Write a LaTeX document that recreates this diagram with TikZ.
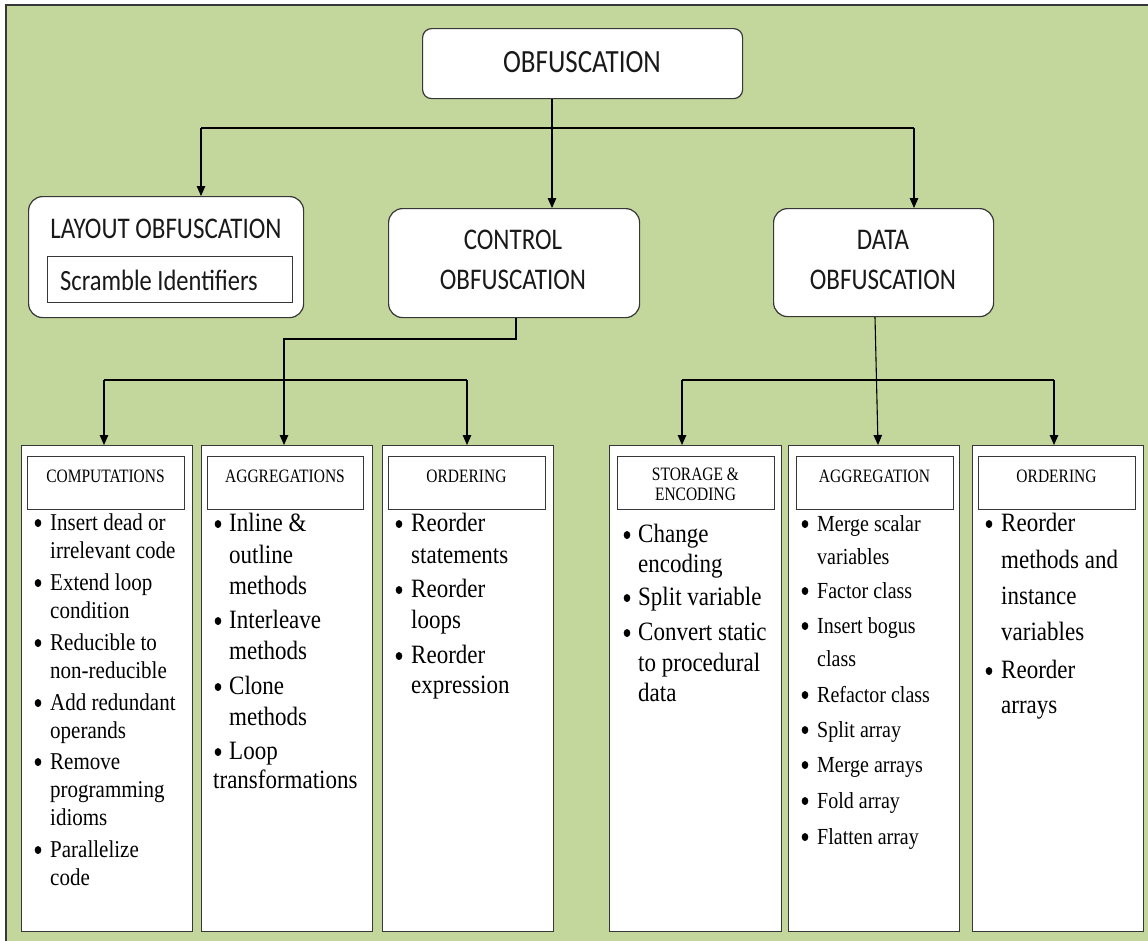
\documentclass[tikz,border=0pt]{standalone}
\usepackage{graphicx}
\usepackage{fontspec}
\setmainfont{Liberation Serif}
\newfontfamily\calib{Carlito}
\usetikzlibrary{arrows.meta}

\definecolor{bggreen}{RGB}{195,214,155}
\definecolor{edge}{RGB}{55,55,55}

% body text helpers
\newcommand\bodyfont{\fontsize{21}{21}\selectfont}
\newcommand\setbody[1]{\renewcommand\bodyfont{\fontsize{#1}{#1}\selectfont}}
\newcommand\vstr[2][1.15]{\scalebox{1}[#1]{#2}}
% bullet item: name, bullet x, text x, baseline y, text
\newcommand\bitem[5]{%
  \fill (#2,{#4-7}) ellipse [x radius=3.3, y radius=4];
  \node[body] (#1) at (#3,#4) {\vstr{#5}};}
% continuation line: name, x, baseline y, text
\newcommand\bcont[4]{\node[body] (#1) at (#2,#3) {\vstr{#4}};}
% box by corners: name, style, x1, y1, x2, y2
\newcommand\boxat[6]{%
  \node[#2, anchor=north west, minimum width={#5-#3}, minimum height={#6-#4}] (#1) at (#3,#4) {};}

\begin{document}
\begin{tikzpicture}[x=1pt,y=-1pt,
  roundbox/.style={draw=edge, line width=1.2pt, fill=white, rounded corners=14pt, inner sep=0},
  plainbox/.style={draw=edge, line width=1.2pt, fill=white, inner sep=0},
  conn/.style={line width=1.1pt, draw=black},
  arr/.style={conn, -{Triangle[length=10pt,width=8.5pt]}},
  toplabel/.style={inner sep=0, anchor=base, font=\calib\fontsize{25}{25}\selectfont, text=black!90},
  head/.style={inner sep=0, anchor=base, font=\fontsize{15.5}{15.5}\selectfont},
  body/.style={inner sep=0, anchor=base west, font=\bodyfont}]

% page and frame
\useasboundingbox (0,0) rectangle (1148,940);
\clip (0,0) rectangle (1148,940);
\fill[white] (0,0) rectangle (1148,940);
\fill[bggreen] (6,5) rectangle (1160,950);
\draw[edge, line width=2pt] (1160,5) -- (6,5) -- (6,950);

% upper level boxes
\boxat{obf}{roundbox, rounded corners=9pt}{422}{28}{742}{98}
\boxat{lay}{roundbox}{28}{196}{303}{317}
\boxat{scr}{plainbox, line width=1pt}{47}{256}{292}{302}
\boxat{ctl}{roundbox}{388}{208}{639}{317}
\boxat{dat}{roundbox}{773}{208}{993}{316}

\node[toplabel, font=\calib\fontsize{27}{27}\selectfont] (tobf) at (582,72) {\vstr[1.2]{OBFUSCATION}};
\node[toplabel] (tlay) at (166,238) {\vstr[1.2]{LAYOUT OBFUSCATION}};
\node[toplabel, anchor=base west, font=\calib\fontsize{24.5}{24.5}\selectfont] (tscr) at (60,290) {\vstr[1.2]{Scramble Identifiers}};
\node[toplabel] (tctl1) at (513,249) {\vstr[1.2]{CONTROL}};
\node[toplabel] (tctl2) at (513,289) {\vstr[1.2]{OBFUSCATION}};
\node[toplabel] (tdat1) at (883,249) {\vstr[1.2]{DATA}};
\node[toplabel] (tdat2) at (883,289) {\vstr[1.2]{OBFUSCATION}};

% lower level boxes
\boxat{b1}{plainbox}{21}{445}{192}{931}
\boxat{b2}{plainbox}{201}{445}{372}{931}
\boxat{b3}{plainbox}{382}{445}{553}{931}
\boxat{b4}{plainbox}{609}{445}{781}{931}
\boxat{b5}{plainbox}{788}{445}{959}{931}
\boxat{b6}{plainbox}{972}{445}{1143}{931}

% header boxes
\boxat{h1}{plainbox}{27}{456}{184}{509}
\boxat{h2}{plainbox}{207}{456}{363}{509}
\boxat{h3}{plainbox}{388}{456}{545}{509}
\boxat{h4}{plainbox}{617}{456}{774}{509}
\boxat{h5}{plainbox}{796}{456}{953}{509}
\boxat{h6}{plainbox}{978}{456}{1135}{509}

\node[head] (th1) at (105.5,482) {\vstr[1.22]{COMPUTATIONS}};
\node[head] (th2) at (285,482) {\vstr[1.22]{AGGREGATIONS}};
\node[head] (th3) at (466.5,482) {\vstr[1.22]{ORDERING}};
\node[head] (th4a) at (695.5,480) {\vstr[1.22]{STORAGE \&}};
\node[head] (th4b) at (695.5,500) {\vstr[1.22]{ENCODING}};
\node[head] (th5) at (874.5,482) {\vstr[1.22]{AGGREGATION}};
\node[head] (th6) at (1056.5,482) {\vstr[1.22]{ORDERING}};

% computations
\setbody{21}
\bitem{c1}{38}{50}{530}{Insert dead or}
\bcont{c1b}{50}{558}{irrelevant code}
\bitem{c2}{38}{50}{590}{Extend loop}
\bcont{c2b}{50}{618}{condition}
\bitem{c3}{38}{50}{650}{Reducible to}
\bcont{c3b}{50}{678}{non-reducible}
\bitem{c4}{38}{50}{710}{Add redundant}
\bcont{c4b}{50}{738}{operands}
\bitem{c5}{38}{50}{769}{Remove}
\bcont{c5b}{50}{797}{programming}
\bcont{c5c}{50}{825}{idioms}
\bitem{c6}{38}{50}{857}{Parallelize}
\bcont{c6b}{50}{885}{code}

% aggregations
\setbody{23}
\bitem{a1}{218}{229}{531}{Inline \&}
\bcont{a1b}{229}{563}{outline}
\bcont{a1c}{229}{594}{methods}
\bitem{a2}{218}{229}{628}{Interleave}
\bcont{a2b}{229}{659}{methods}
\bitem{a3}{218}{229}{694}{Clone}
\bcont{a3b}{229}{725}{methods}
\bitem{a4}{218}{229}{759}{Loop}
\bcont{a4b}{213}{788}{transformations}

% ordering (control)
\bitem{o1}{399}{411}{531}{Reorder}
\bcont{o1b}{411}{563}{statements}
\bitem{o2}{399}{411}{597}{Reorder}
\bcont{o2b}{411}{628}{loops}
\bitem{o3}{399}{411}{663}{Reorder}
\bcont{o3b}{411}{693}{expression}

% storage and encoding
\bitem{s1}{627}{638}{542}{Change}
\bcont{s1b}{638}{572}{encoding}
\bitem{s2}{627}{638}{605}{Split variable}
\bitem{s3}{627}{638}{640}{Convert static}
\bcont{s3b}{638}{671}{to procedural}
\bcont{s3c}{638}{701}{data}

% aggregation (data)
\setbody{20}
\bitem{g1}{805}{817}{531}{Merge scalar}
\bcont{g1b}{817}{564}{variables}
\bitem{g2}{805}{817}{598}{Factor class}
\bitem{g3}{805}{817}{633}{Insert bogus}
\bcont{g3b}{817}{666}{class}
\bitem{g4}{805}{817}{702}{Refactor class}
\bitem{g5}{805}{817}{737}{Split array}
\bitem{g6}{805}{817}{772}{Merge arrays}
\bitem{g7}{805}{817}{808}{Fold array}
\bitem{g8}{805}{817}{844}{Flatten array}

% ordering (data)
\setbody{23}
\bitem{r1}{989}{1001}{531}{Reorder}
\bcont{r1b}{1001}{568}{methods and}
\bcont{r1c}{1001}{604}{instance}
\bcont{r1d}{1001}{640}{variables}
\bitem{r2}{989}{1001}{678}{Reorder}
\bcont{r2b}{1001}{713}{arrays}

% connectors from the root
\coordinate (busT) at (552,128);
\coordinate (busL) at (201,128);
\coordinate (busR) at (914,128);
\draw[conn] (obf.south -| busT) -- (busT);
\draw[conn] (busL) -- (busR);
\draw[arr] (busL) -- (lay.north -| busL);
\draw[arr] (busT) -- (ctl.north -| busT);
\draw[arr] (busR) -- (dat.north -| busR);

% connectors below control obfuscation
\coordinate (ca) at (516,339);
\coordinate (cb) at (284,339);
\draw[arr] (ctl.south -| ca) -- (ca) -- (cb) -- (b2.north -| cb);
\coordinate (cl) at (104,380);
\coordinate (cr) at (467,380);
\draw[conn] (cl) -- (cr);
\draw[arr] (cl) -- (b1.north -| cl);
\draw[arr] (cr) -- (b3.north -| cr);

% connectors below data obfuscation
\coordinate (dx) at (875,0);
\coordinate (dt) at (878,0);
\draw[arr] (dat.south -| dx) -- (b5.north -| dt);
\coordinate (dl) at (682,380);
\coordinate (dr) at (1054,380);
\draw[conn] (dl) -- (dr);
\draw[arr] (dl) -- (b4.north -| dl);
\draw[arr] (dr) -- (b6.north -| dr);

\end{tikzpicture}
\end{document}
